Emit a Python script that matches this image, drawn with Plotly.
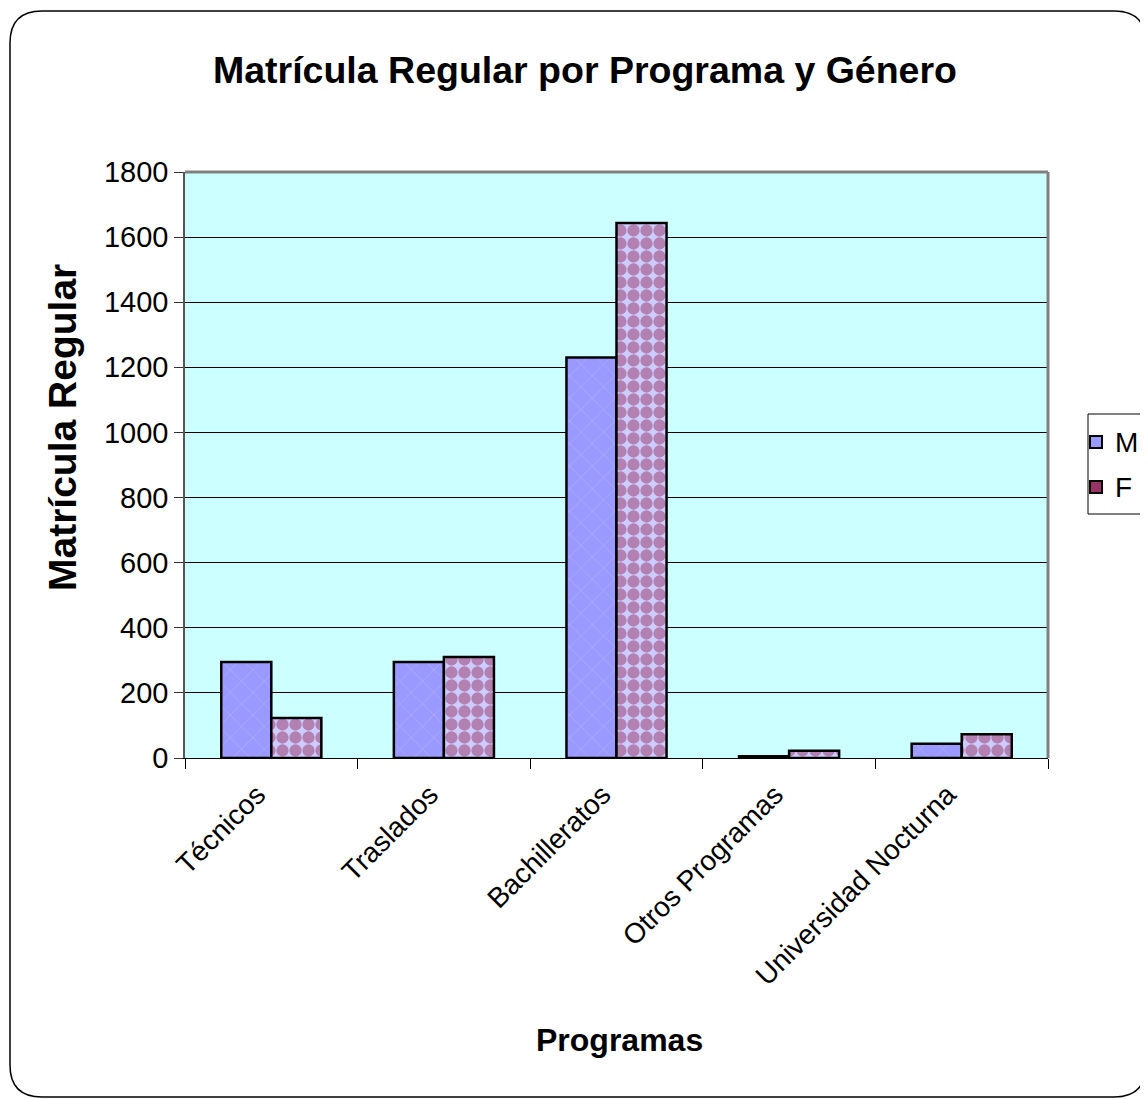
import plotly.graph_objects as go

programas = ['Técnicos', 'Traslados', 'Bachilleratos', 'Otros Programas', 'Universidad Nocturna']
masculino = [295, 295, 1230, 5, 44]
femenino = [123, 310, 1643, 22, 73]
y_ticks = [0, 200, 400, 600, 800, 1000, 1200, 1400, 1600, 1800]
series_names = ['M', 'F']
series_colors = ['#9999FF', '#993366']

# page body has an 8px margin, so work in figure pixels = reference - 8
OFF = 8
W, H = 1148 - OFF, 1099 - OFF
L, T = 185 - OFF, 172 - OFF
R = W - (1048 - OFF)
B = H - (758 - OFF)
pw, ph = W - L - R, H - T - B


def px2paper(x, y):
    # reference pixel -> paper coords
    return (x - OFF - L) / pw, (H - B - (y - OFF)) / ph


def rounded_rect(x0, y0, x1, y1, r):
    ax, ay = px2paper(x0, y0)
    bx, by = px2paper(x1, y1)
    rx, ry = r / pw, r / ph
    return (f'M {ax + rx},{ay} L {bx - rx},{ay} Q {bx},{ay} {bx},{ay - ry} '
            f'L {bx},{by + ry} Q {bx},{by} {bx - rx},{by} '
            f'L {ax + rx},{by} Q {ax},{by} {ax},{by + ry} '
            f'L {ax},{ay - ry} Q {ax},{ay} {ax + rx},{ay} Z')


def pbox(x0, y0, x1, y1, **kw):
    ax, ay = px2paper(x0, y0)
    bx, by = px2paper(x1, y1)
    return dict(type='rect', xref='paper', yref='paper', x0=ax, y0=by, x1=bx, y1=ay, **kw)


fig = go.Figure()
fig.add_trace(go.Bar(
    x=programas, y=masculino, name='M', showlegend=False,
    marker=dict(color='#9999FF', line=dict(color='black', width=2.5),
                pattern=dict(shape='x', fgcolor='#C8C8FF', bgcolor='#9999FF',
                             size=16, solidity=0.08))
))
fig.add_trace(go.Bar(
    x=programas, y=femenino, name='F', showlegend=False,
    marker=dict(color='#993366', line=dict(color='black', width=2.5),
                pattern=dict(shape='.', fgcolor='#993366', bgcolor='#CCCCFF',
                             size=13, solidity=0.7))
))

tx, ty = px2paper(62, 428)
ax_x, ax_y = px2paper(619, 1040)

# hand-built legend box (the original one is clipped by the right edge)
legend_shapes = [pbox(1088, 414, 1160, 514, line=dict(color='black', width=1),
                      fillcolor='white')]
legend_notes = []
for i, (nm, col) in enumerate(zip(series_names, series_colors)):
    cy = 442 + i * 45
    legend_shapes.append(pbox(1090, cy - 6, 1102, cy + 6, line=dict(color='black', width=2),
                              fillcolor=col))
    lx, ly = px2paper(1113, cy)
    legend_notes.append(dict(text=nm, x=lx, y=ly, xref='paper', yref='paper',
                             showarrow=False, font=dict(size=28),
                             xanchor='left', yanchor='middle'))

fig.update_layout(
    width=W, height=H,
    margin=dict(l=L, r=R, t=T, b=B, autoexpand=False),
    paper_bgcolor='white',
    plot_bgcolor='#CCFFFF',
    font=dict(family='Liberation Sans, Arial', size=29, color='black'),
    title=dict(text='<b>Matrícula Regular por Programa y Género</b>',
               x=(585 - OFF) / W, xanchor='center', y=1 - (70 - OFF) / H, yanchor='middle',
               font=dict(size=37.5)),
    barmode='group',
    bargap=0.42,
    bargroupgap=0,
    xaxis=dict(
        tickangle=-45, showline=True, linecolor='black', linewidth=1,
        ticks='outside', tickson='boundaries', ticklen=10, tickcolor='black',
        showgrid=False, tickfont=dict(size=28),
        ticklabelstandoff=8, ticklabelshift=-14,
    ),
    yaxis=dict(
        range=[0, 1800], tickvals=y_ticks,
        showline=True, linecolor='#555555', linewidth=1.5,
        ticks='outside', ticklen=9, tickcolor='#333333',
        showgrid=True, gridcolor='black', gridwidth=1, zeroline=False,
        tickfont=dict(size=29),
    ),
    annotations=[
        dict(text='<b>Matrícula Regular</b>', x=tx, y=ty, xref='paper', yref='paper',
             textangle=-90, showarrow=False, font=dict(size=39),
             xanchor='center', yanchor='middle'),
        dict(text='<b>Programas</b>', x=ax_x, y=ax_y, xref='paper', yref='paper',
             showarrow=False, font=dict(size=32), xanchor='center', yanchor='middle'),
    ] + legend_notes,
    shapes=[
        dict(type='line', xref='paper', yref='paper', x0=0, x1=1, y0=1, y1=1,
             line=dict(color='#808080', width=3)),
        dict(type='line', xref='paper', yref='paper', x0=1, x1=1, y0=0, y1=1,
             line=dict(color='#808080', width=3)),
        dict(type='path', xref='paper', yref='paper',
             path=rounded_rect(10, 11, 1146, 1097, 32),
             line=dict(color='black', width=1.5), layer='below'),
    ] + legend_shapes,
)

fig.write_html('out.html')
